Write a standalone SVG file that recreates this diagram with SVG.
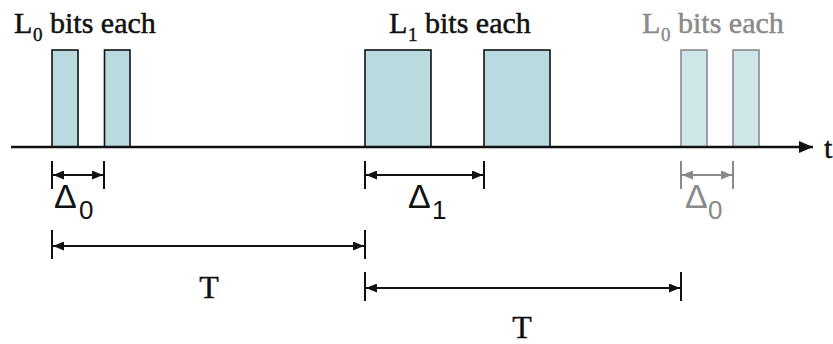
<svg xmlns="http://www.w3.org/2000/svg" width="833" height="344" viewBox="0 0 833 344">
<style>
.lbl{font-family:"Liberation Serif","Times New Roman",serif;font-size:30px;fill:#111;stroke:#111;stroke-width:0.5}
.sub{font-family:"Liberation Serif","Times New Roman",serif;font-size:19px;fill:#111;stroke:#111;stroke-width:0.4}
.dl{font-family:"Liberation Sans",Arial,sans-serif;font-size:34px;fill:#111}
.ds{font-family:"Liberation Sans",Arial,sans-serif;font-size:26px;fill:#111}
.tt{font-family:"Liberation Serif","Times New Roman",serif;font-size:32px;fill:#111;stroke:#111;stroke-width:0.4}
.gray{fill:#8a8a8a;stroke:#8a8a8a}
.dl.gray,.ds.gray{stroke:none}
.pk{fill:#b9dbe0;stroke:#111;stroke-width:1.6}
.pkg{fill:#cfe6e9;stroke:#8a8a8a;stroke-width:1.6}
.tick{stroke:#111;stroke-width:2}
.tickg{stroke:#8a8a8a;stroke-width:2}
.dim{stroke:#111;stroke-width:2.2;fill:none}
.dimg{stroke:#8a8a8a;stroke-width:2.2;fill:none}
</style>
<defs>
<marker id="ah" markerUnits="userSpaceOnUse" markerWidth="11" markerHeight="9" refX="11" refY="4.5" orient="auto-start-reverse"><path d="M0,0 L11,4.5 L0,9 z" fill="#111"/></marker>
<marker id="ahg" markerUnits="userSpaceOnUse" markerWidth="11" markerHeight="9" refX="11" refY="4.5" orient="auto-start-reverse"><path d="M0,0 L11,4.5 L0,9 z" fill="#8a8a8a"/></marker>
<marker id="axh" markerUnits="userSpaceOnUse" markerWidth="14" markerHeight="12" refX="14" refY="6" orient="auto"><path d="M0,0 L14,6 L0,12 z" fill="#111"/></marker>
</defs>
<rect width="833" height="344" fill="#fff"/>

<g id="burst0">
<rect class="pk" x="52" y="50" width="26" height="97"/>
<rect class="pk" x="104.5" y="50" width="25.5" height="97"/>
<text class="lbl" x="14" y="33">L</text>
<text class="sub" x="33" y="41">0</text>
<text class="lbl" x="50" y="33">bits each</text>
</g>

<g id="burst1">
<rect class="pk" x="365" y="50" width="66" height="97"/>
<rect class="pk" x="484" y="50" width="66" height="97"/>
<text class="lbl" x="389" y="33">L</text>
<text class="sub" x="408" y="41">1</text>
<text class="lbl" x="425" y="33">bits each</text>
</g>

<g id="burst2">
<rect class="pkg" x="681" y="50" width="26" height="97"/>
<rect class="pkg" x="733" y="50" width="26" height="97"/>
<text class="lbl gray" x="642" y="33">L</text>
<text class="sub gray" x="661" y="41">0</text>
<text class="lbl gray" x="678" y="33">bits each</text>
</g>

<g id="axis">
<line x1="11" y1="147" x2="813" y2="147" stroke="#111" stroke-width="2.6" marker-end="url(#axh)"/>
<text class="lbl" x="824" y="158">t</text>
</g>

<g id="connectors">
<line class="tick" x1="52" y1="161" x2="52" y2="189"/>
<line class="tick" x1="104" y1="161" x2="104" y2="189"/>
<line class="dim" x1="53" y1="175" x2="103" y2="175" marker-start="url(#ah)" marker-end="url(#ah)"/>

<line class="tick" x1="365" y1="161" x2="365" y2="189"/>
<line class="tick" x1="484" y1="161" x2="484" y2="189"/>
<line class="dim" x1="366" y1="175" x2="483" y2="175" marker-start="url(#ah)" marker-end="url(#ah)"/>

<line class="tickg" x1="681" y1="161" x2="681" y2="189"/>
<line class="tickg" x1="733" y1="161" x2="733" y2="189"/>
<line class="dimg" x1="682" y1="175" x2="732" y2="175" marker-start="url(#ahg)" marker-end="url(#ahg)"/>

<line class="tick" x1="52" y1="230" x2="52" y2="259"/>
<line class="tick" x1="365" y1="230" x2="365" y2="259"/>
<line class="dim" x1="53" y1="246" x2="364" y2="246" marker-start="url(#ah)" marker-end="url(#ah)"/>

<line class="tick" x1="365" y1="272" x2="365" y2="301"/>
<line class="tick" x1="681" y1="272" x2="681" y2="301"/>
<line class="dim" x1="366" y1="288" x2="680" y2="288" marker-start="url(#ah)" marker-end="url(#ah)"/>
</g>

<g id="labels">
<text class="dl" x="54" y="208">Δ</text>
<text class="ds" x="79" y="219">0</text>
<text class="dl" x="408" y="208">Δ</text>
<text class="ds" x="432" y="219">1</text>
<text class="dl gray" x="685" y="208">Δ</text>
<text class="ds gray" x="708" y="219">0</text>
<text class="tt" x="209" y="298" text-anchor="middle">T</text>
<text class="tt" x="522" y="338" text-anchor="middle">T</text>
</g>
</svg>
